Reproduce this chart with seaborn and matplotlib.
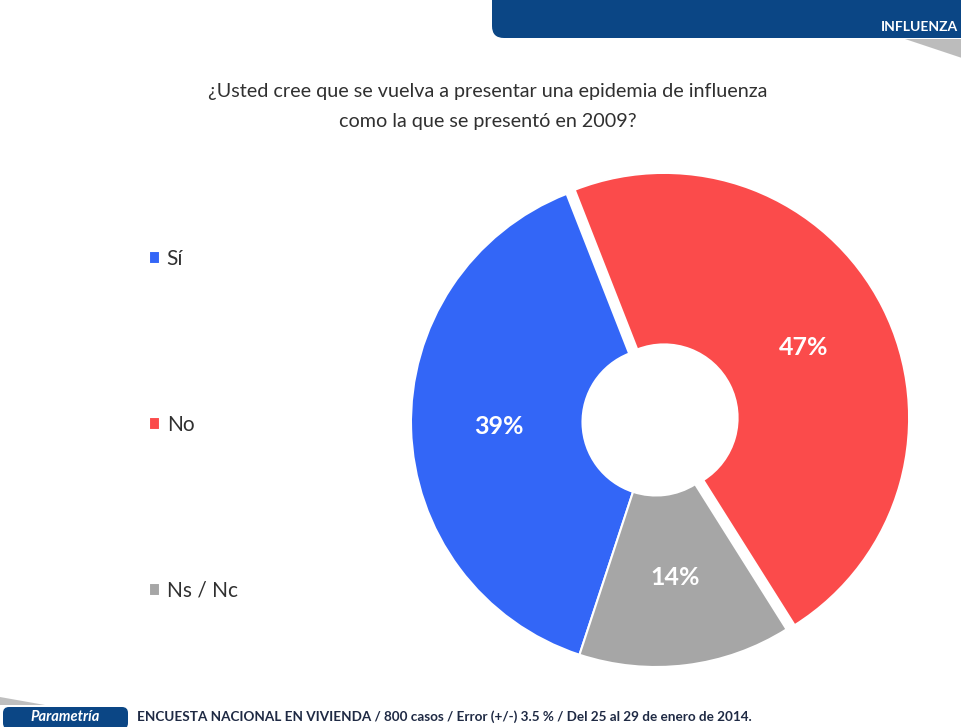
import matplotlib
matplotlib.use("Agg")
import matplotlib.pyplot as plt
from matplotlib.patches import FancyBboxPatch, Polygon
import seaborn as sns

# data
categories = ["Sí", "No", "Ns / Nc"]
values = [39, 47, 14]
colors = ["#3366f7", "#fb4b4b", "#a6a6a6"]

title_lines = ["¿Usted cree que se vuelva a presentar una epidemia de influenza",
               "como la que se presentó en 2009?"]
section = "INFLUENZA"
brand = "Parametría"
source = ("ENCUESTA NACIONAL EN VIVIENDA / 800 casos / Error (+/-) 3.5 % / "
          "Del 25 al 29 de enero de 2014.")

sns.set_theme(style="white")
plt.rcParams["font.family"] = ["Lato", "DejaVu Sans"]

W, H = 962, 727
fig = plt.figure(figsize=(W / 100, H / 100), dpi=100)

# background axes in pixel units (y going down)
bg = fig.add_axes([0, 0, 1, 1])
bg.set_xlim(0, W)
bg.set_ylim(H, 0)
bg.axis("off")

# header bar
bg.add_patch(FancyBboxPatch((492, -40), 520, 78, boxstyle="round,pad=0,rounding_size=12",
                            fc="#0b4685", ec="none"))
bg.add_patch(Polygon([(905, 39), (962, 39), (962, 58)], closed=True, fc="#a0a0a0", ec="none", alpha=0.7))
bg.text(958, 27, section, ha="right", va="center", color="white", fontweight="bold", fontsize=10)

# title
bg.text(488, 92, title_lines[0], ha="center", va="center", fontsize=14.2, color="#303030")
bg.text(488, 121, title_lines[1], ha="center", va="center", fontsize=14.2, color="#303030")

# footer
bg.add_patch(Polygon([(0, 697), (45, 705), (0, 705)], closed=True, fc="#b0b0b0", ec="none", alpha=0.8))
bg.add_patch(FancyBboxPatch((3, 707), 125, 22, boxstyle="round,pad=0,rounding_size=6",
                            fc="#0b4685", ec="none"))
bg.text(65, 717, brand, ha="center", va="center", color="white", fontstyle="italic",
        fontweight="bold", fontsize=10.5)
bg.text(137, 717, source, ha="left", va="center", color="#1f2a44", fontweight="bold", fontsize=9.7)

# donut
cx, cy, R = 656, 422, 245
half = 300
pie_ax = fig.add_axes([(cx - half) / W, (H - cy - half) / H, 2 * half / W, 2 * half / H])
wedges, _, autotexts = pie_ax.pie(
    values, colors=colors, startangle=251.8, counterclock=False,
    explode=[0, 0.037, 0], autopct="%.0f%%", pctdistance=0.64,
    wedgeprops=dict(width=0.70, edgecolor="white", linewidth=1.5))
for t in autotexts:
    t.set_color("white")
    t.set_fontweight("bold")
    t.set_fontsize(18)
pie_ax.set_xlim(-half / R, half / R)
pie_ax.set_ylim(-half / R, half / R)
pie_ax.axis("off")

pie_ax.legend(wedges, categories, loc="upper left",
              bbox_to_anchor=(149 / W, 1 - 249 / H), bbox_transform=fig.transFigure,
              frameon=False, labelspacing=7.0, handlelength=0.55, handleheight=0.55,
              handletextpad=0.3, fontsize=15, borderpad=0, borderaxespad=0,
              labelcolor="#303030")

fig.savefig("out.png", dpi=100)
